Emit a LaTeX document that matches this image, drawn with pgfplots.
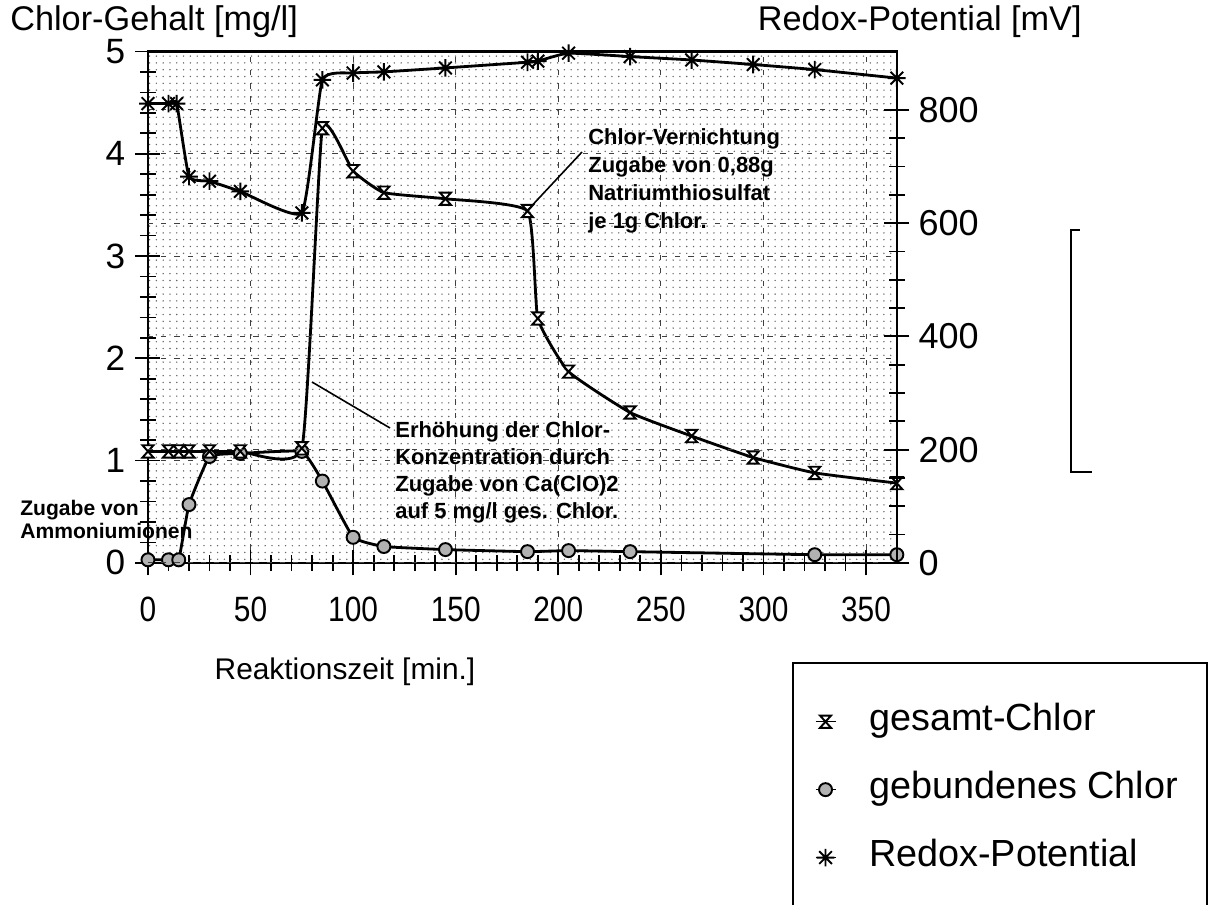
\documentclass[border=0pt]{standalone}
\usepackage{fontspec}
\setmainfont{Liberation Sans}
\usepackage{pgfplots}
\pgfplotsset{compat=1.18}
\usepackage{pgfplotstable}
\usetikzlibrary{patterns.meta}

\tikzdeclarepattern{
  name=rasterdots,
  type=uncolored,
  bounding box={(-1pt,-1pt) and (1pt,1pt)},
  tile size={(3.87pt,3.87pt)},
  code={\pgfpathcircle{\pgfpointorigin}{0.45pt}\pgfusepath{fill}}
}

\pgfdeclareplotmark{hourglass}{%
  \pgfpathmoveto{\pgfqpoint{-0.9\pgfplotmarksize}{\pgfplotmarksize}}%
  \pgfpathlineto{\pgfqpoint{0.9\pgfplotmarksize}{\pgfplotmarksize}}%
  \pgfpathlineto{\pgfqpoint{-0.9\pgfplotmarksize}{-\pgfplotmarksize}}%
  \pgfpathlineto{\pgfqpoint{0.9\pgfplotmarksize}{-\pgfplotmarksize}}%
  \pgfpathclose
  \pgfusepathqfillstroke}
\pgfdeclareplotmark{ast8}{%
  \pgfpathmoveto{\pgfqpoint{-\pgfplotmarksize}{0pt}}\pgfpathlineto{\pgfqpoint{\pgfplotmarksize}{0pt}}%
  \pgfpathmoveto{\pgfqpoint{0pt}{-\pgfplotmarksize}}\pgfpathlineto{\pgfqpoint{0pt}{\pgfplotmarksize}}%
  \pgfpathmoveto{\pgfqpoint{-0.72\pgfplotmarksize}{-0.72\pgfplotmarksize}}\pgfpathlineto{\pgfqpoint{0.72\pgfplotmarksize}{0.72\pgfplotmarksize}}%
  \pgfpathmoveto{\pgfqpoint{-0.72\pgfplotmarksize}{0.72\pgfplotmarksize}}\pgfpathlineto{\pgfqpoint{0.72\pgfplotmarksize}{-0.72\pgfplotmarksize}}%
  \pgfusepathqstroke}

% Gesamt-Chlor [mg/l]
\pgfplotstableread{
t   v
0   1.09
10  1.09
15  1.09
20  1.09
30  1.09
45  1.09
75  1.12
85  4.25
100 3.83
115 3.62
145 3.56
185 3.44
190 2.39
205 1.87
235 1.47
265 1.24
295 1.03
325 0.88
365 0.78
}\gesamt

% gebundenes Chlor [mg/l]
\pgfplotstableread{
t   v
0   0.03
10  0.03
15  0.03
20  0.57
30  1.04
45  1.07
75  1.09
85  0.80
100 0.25
115 0.16
145 0.13
185 0.11
205 0.12
235 0.11
325 0.08
365 0.08
}\gebunden

% Redox-Potential [mV]
\pgfplotstableread{
t   v
0   811
10  811
14  811
20  682
30  674
45  656
75  618
85  853
100 865
115 867
145 874
185 884
190 886
205 900
235 894
265 888
295 880
325 871
365 856
}\redox

\pgfplotsset{
  gesamtstyle/.style={black, line width=1.6pt, mark=hourglass, mark size=3.5pt,
    mark options={solid, fill=white, line width=1.1pt}},
  gebundenstyle/.style={black, line width=1.6pt, mark=*, mark size=3.7pt,
    mark options={solid, fill=black!30, line width=1.1pt}},
  redoxstyle/.style={black, line width=1.6pt, mark=ast8, mark size=5pt,
    mark options={solid, line width=1.1pt}},
  base/.style={
    at={(2.96cm,-11.26cm)}, anchor=south west,
    scale only axis, width=14.98cm, height=10.23cm,
    xmin=0, xmax=365, clip=false,
    tick align=center,
    major tick length=0.5cm, minor tick length=0.32cm,
    every tick/.append style={black, line width=1pt},
    axis line style={line width=1.3pt},
    major grid style={black!75, line width=0.6pt, dash pattern=on 3pt off 4.5pt},
    /pgf/number format/assume math mode=true,
  },
}

\begin{document}
\begin{tikzpicture}
\begin{scope}[x=0.02cm, y=-0.02cm]
  \path[use as bounding box] (0,0) rectangle (1210,900);
\end{scope}

\begin{axis}[
  base,
  ymin=0, ymax=5,
  xtick={0,50,...,350}, ytick={0,1,...,5},
  minor x tick num=4, minor y tick num=4,
  xtick pos=left, ytick pos=left,
  grid=major,
  axis background/.style={pattern=rasterdots, pattern color=black!60},
  yticklabel style={font=\fontsize{20}{20}\selectfont, anchor=east, inner sep=0pt, xshift=-0.2cm},
  xticklabel style={font=\fontsize{20}{20}\selectfont, xscale=0.85, anchor=north, inner sep=0pt, yshift=-0.42cm},
]
  \addplot[gebundenstyle, smooth, tension=0.2] table[x=t, y=v] {\gebunden};
  \addplot[gesamtstyle, smooth, tension=0.25] table[x=t, y=v] {\gesamt};
\end{axis}

\begin{axis}[
  base,
  ymin=0, ymax=903,
  axis x line=none, axis y line*=right,
  ytick={0,200,...,800}, minor y tick num=3,
  ymajorgrids,
  yticklabel style={font=\fontsize{20.5}{20.5}\selectfont, anchor=west, inner sep=0pt, xshift=0.18cm},
  legend image code/.code={\draw[mark repeat=2, mark phase=2, #1, line width=0.8pt]
    plot coordinates {(0cm,0cm) (0.2cm,0cm) (0.4cm,0cm)};},
  legend style={draw=none, fill=none, at={(0.8905,-0.277)}, anchor=north west,
    inner sep=0pt, outer sep=0pt, row sep=0.674cm, column sep=0.66cm,
    font=\fontsize{21.5}{21.5}\selectfont,
    nodes={inner sep=0pt, text height=15pt, text depth=4.5pt}},
  legend cell align=left,
]
  \addlegendimage{gesamtstyle}
  \addlegendentry{gesamt-Chlor}
  \addlegendimage{gebundenstyle}
  \addlegendentry{gebundenes Chlor}
  \addplot[redoxstyle, smooth, tension=0.25] table[x=t, y=v] {\redox};
  \addlegendentry{Redox-Potential}
\end{axis}

\begin{scope}[x=0.02cm, y=-0.02cm]
  % titles
  \node[anchor=west, inner sep=0pt, font=\fontsize{19.5}{19.5}\selectfont] at (10,22) {Chlor-Gehalt [mg/l]};
  \node[anchor=east, inner sep=0pt, font=\fontsize{19.5}{19.5}\selectfont] at (1082,22) {Redox-Potential [mV]};
  \node[inner sep=0pt, font=\fontsize{17}{17}\selectfont] at (345,672) {Reaktionszeit [min.]};
  % annotations
  \node[anchor=north west, inner sep=0pt, align=left, font=\bfseries\fontsize{12.5}{15.9}\selectfont]
    at (588,128) {Chlor-Vernichtung\\Zugabe von 0,88g\\Natriumthiosulfat\\je 1g Chlor.};
  \draw[line width=0.9pt] (526,212) -- (582,152);
  \node[anchor=north west, inner sep=0pt, align=left, font=\bfseries\fontsize{12.5}{15.4}\selectfont]
    at (395,421) {Erhöhung der Chlor-\\Konzentration durch\\Zugabe von Ca(ClO)2\\auf 5 mg/l ges. Chlor.};
  \draw[line width=0.9pt] (312,382) -- (390,428);
  \node[anchor=north west, inner sep=0pt, align=left, font=\bfseries\fontsize{12}{13.2}\selectfont]
    at (20,500) {Zugabe von\\Ammoniumionen};
  % legend frame and bracket
  \draw[line width=1.2pt] (793,905) -- (793,663) -- (1207,663) -- (1207,905);
  \draw[line width=1.4pt] (1080,230) -- (1071,230) -- (1071,472) -- (1092,472);
\end{scope}
\end{tikzpicture}
\end{document}
